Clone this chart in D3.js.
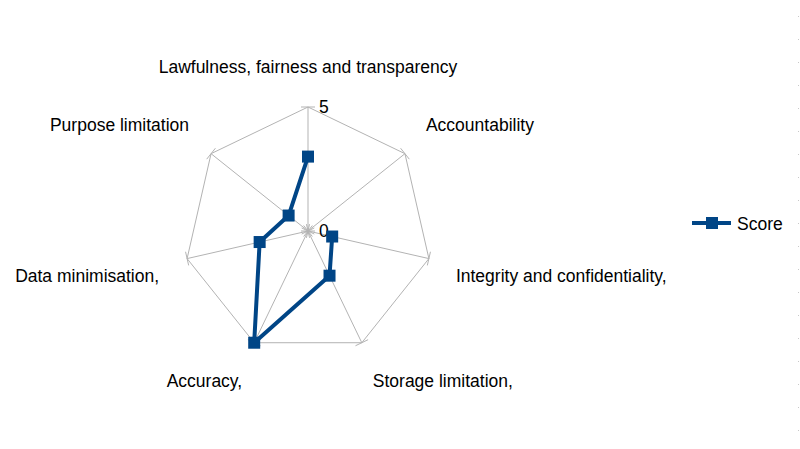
<!DOCTYPE html>
<html>
<head>
<meta charset="utf-8">
<script src="https://cdn.jsdelivr.net/npm/d3@7"></script>
<style>
  body { margin: 0; background: #fff; }
  text { font-family: "Liberation Sans", Arial, sans-serif; }
</style>
</head>
<body>
<script>
// categories, clockwise from the top
var categories = [
    "Lawfulness, fairness and transparency",
    "Accountability",
    "Integrity and confidentiality,",
    "Storage limitation,",
    "Accuracy,",
    "Data minimisation,",
    "Purpose limitation"
];
// null = no value (gap in the line)
var scores = [3, null, 1, 2, 5, 2, 1];
var tickValues = [0, 5];
var seriesName = "Score";

var w = 800, h = 449;
var cx = 308, cy = 231, radius = 124;
var blue = "#004586", grid = "#b3b3b3";
var fontSize = 17.5;

var svg = d3.select("body").append("svg")
    .attr("width", w)
    .attr("height", h);

var rScale = d3.scaleLinear().domain([0, 5]).range([0, radius]);
var angle = d3.scaleLinear().domain([0, categories.length]).range([0, 2 * Math.PI]);

function pt(i, v) {
    var a = angle(i) - Math.PI / 2;
    return [cx + rScale(v) * Math.cos(a), cy + rScale(v) * Math.sin(a)];
}

var g = svg.append("g");

// outer polygon
var outer = categories.map(function (d, i) { return pt(i, 5); });
g.append("path")
    .attr("d", d3.line()(outer) + "Z")
    .attr("fill", "none")
    .attr("stroke", grid)
    .attr("stroke-width", 1);

// spokes
g.selectAll(".spoke")
    .data(categories)
    .enter()
    .append("line")
    .attr("class", "spoke")
    .attr("x1", cx).attr("y1", cy)
    .attr("x2", function (d, i) { return pt(i, 5)[0]; })
    .attr("y2", function (d, i) { return pt(i, 5)[1]; })
    .attr("stroke", grid)
    .attr("stroke-width", 1);

// tick marks across each spoke
categories.forEach(function (c, i) {
    var a = angle(i) - Math.PI / 2;
    var px = -Math.sin(a), py = Math.cos(a);
    tickValues.forEach(function (t) {
        var p = pt(i, t);
        g.append("line")
            .attr("x1", p[0] - px * 7).attr("y1", p[1] - py * 7)
            .attr("x2", p[0] + px * 7).attr("y2", p[1] + py * 7)
            .attr("stroke", grid)
            .attr("stroke-width", 1);
    });
});

// tick labels on the first axis
g.selectAll(".tick-label")
    .data(tickValues)
    .enter()
    .append("text")
    .attr("class", "tick-label")
    .attr("x", cx + 11)
    .attr("y", function (d) { return pt(0, d)[1] + 6; })
    .attr("font-size", fontSize)
    .attr("fill", "#000")
    .text(function (d) { return d; });

// category labels: offset from the outer end of each spoke
var labelPos = [
    { dx: 0, dy: -40, anchor: "middle" },
    { dx: 21, dy: -29, anchor: "start" },
    { dx: 27, dy: 17, anchor: "start" },
    { dx: 11, dy: 38, anchor: "start" },
    { dx: -12, dy: 38, anchor: "end" },
    { dx: -28, dy: 17, anchor: "end" },
    { dx: -22, dy: -29, anchor: "end" }
];
g.selectAll(".cat")
    .data(categories)
    .enter()
    .append("text")
    .attr("class", "cat")
    .attr("x", function (d, i) { return pt(i, 5)[0] + labelPos[i].dx; })
    .attr("y", function (d, i) { return pt(i, 5)[1] + labelPos[i].dy; })
    .attr("dy", "0.35em")
    .attr("text-anchor", function (d, i) { return labelPos[i].anchor; })
    .attr("font-size", fontSize)
    .attr("fill", "#000")
    .text(function (d) { return d; });

// series line, closed, with a gap where a value is missing
var loop = scores.map(function (v, i) { return { i: i, v: v }; });
loop.push(loop[0]);
var line = d3.line()
    .defined(function (d) { return d.v != null; })
    .x(function (d) { return pt(d.i, d.v)[0]; })
    .y(function (d) { return pt(d.i, d.v)[1]; });

g.append("path")
    .datum(loop)
    .attr("d", line)
    .attr("fill", "none")
    .attr("stroke", blue)
    .attr("stroke-width", 4)
    .attr("stroke-linejoin", "round");

g.selectAll(".marker")
    .data(loop.slice(0, -1).filter(function (d) { return d.v != null; }))
    .enter()
    .append("rect")
    .attr("class", "marker")
    .attr("x", function (d) { return pt(d.i, d.v)[0] - 6; })
    .attr("y", function (d) { return pt(d.i, d.v)[1] - 6; })
    .attr("width", 12)
    .attr("height", 12)
    .attr("fill", blue);

// legend
var lg = svg.append("g").attr("transform", "translate(692,223)");
lg.append("line")
    .attr("x1", 0).attr("x2", 39)
    .attr("stroke", blue)
    .attr("stroke-width", 4);
lg.append("rect")
    .attr("x", 14).attr("y", -6)
    .attr("width", 12).attr("height", 12)
    .attr("fill", blue);
lg.append("text")
    .attr("x", 45).attr("y", 7)
    .attr("font-size", fontSize)
    .text(seriesName);

// faint dotted edge on the right
svg.append("line")
    .attr("x1", 798.5).attr("x2", 798.5)
    .attr("y1", 16).attr("y2", h)
    .attr("stroke", "#c8c8c8")
    .attr("stroke-width", 1)
    .attr("stroke-dasharray", "1,22");
</script>
</body>
</html>
